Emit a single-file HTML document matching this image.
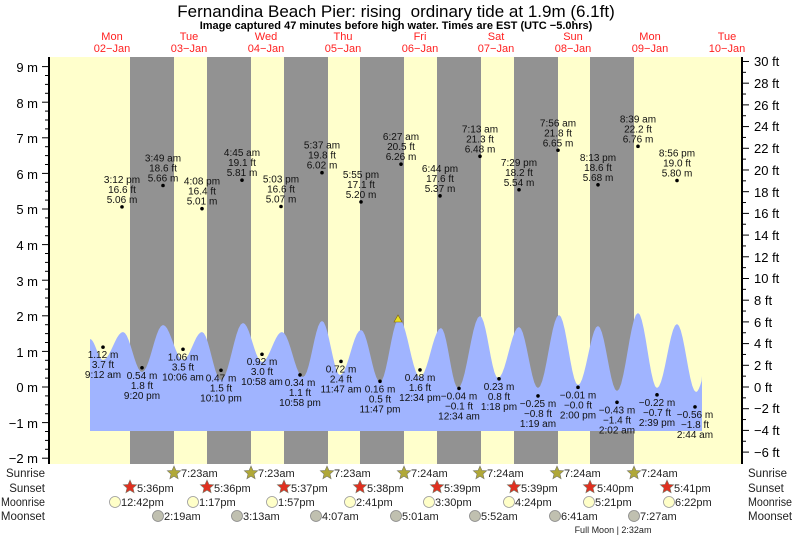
<!DOCTYPE html>
<html><head><meta charset="utf-8"><style>
body{margin:0;background:#fff;width:793px;height:537px;overflow:hidden}
svg{font-family:"Liberation Sans",sans-serif}
</style></head><body>
<svg id="s" width="793" height="537" xmlns="http://www.w3.org/2000/svg">
<rect x="49" y="57" width="693" height="407" fill="#ffffcc"/>
<g fill="#929292">
<rect x="130" y="57" width="44" height="407"/><rect x="207" y="57" width="44" height="407"/>
<rect x="284" y="57" width="44" height="407"/><rect x="360" y="57" width="44" height="407"/>
<rect x="437" y="57" width="44" height="407"/><rect x="514" y="57" width="44" height="407"/>
<rect x="590" y="57" width="44" height="407"/>
</g>
<path id="tide" fill="#a0b4ff" d=""/>
<polygon points="394,322 398,315 402,322" fill="#e8e020" stroke="#806000" stroke-width="0.6"/>
<g id="ax" stroke="#000"></g>
<line x1="49" y1="57" x2="49" y2="464" stroke="#000" stroke-width="2"/>
<line x1="742" y1="57" x2="742" y2="464" stroke="#000" stroke-width="2"/>
<g font-size="13" fill="#000">
<text x="38" y="72" text-anchor="end">9 m</text><text x="38" y="108" text-anchor="end">8 m</text>
<text x="38" y="143" text-anchor="end">7 m</text><text x="38" y="179" text-anchor="end">6 m</text>
<text x="38" y="214" text-anchor="end">5 m</text><text x="38" y="250" text-anchor="end">4 m</text>
<text x="38" y="286" text-anchor="end">3 m</text><text x="38" y="321" text-anchor="end">2 m</text>
<text x="38" y="357" text-anchor="end">1 m</text><text x="38" y="392" text-anchor="end">0 m</text>
<text x="38" y="428" text-anchor="end">−1 m</text><text x="38" y="463" text-anchor="end">−2 m</text>
</g>
<g font-size="13" fill="#000" id="ftl">
<text x="754" y="66">30 ft</text><text x="754" y="88">28 ft</text><text x="754" y="110">26 ft</text>
<text x="754" y="131">24 ft</text><text x="754" y="153">22 ft</text><text x="754" y="175">20 ft</text>
<text x="754" y="197">18 ft</text><text x="754" y="218">16 ft</text><text x="754" y="240">14 ft</text>
<text x="754" y="262">12 ft</text><text x="754" y="283">10 ft</text><text x="754" y="305">8 ft</text>
<text x="754" y="327">6 ft</text><text x="754" y="348">4 ft</text><text x="754" y="370">2 ft</text>
<text x="754" y="392">0 ft</text><text x="754" y="413">−2 ft</text><text x="754" y="435">−4 ft</text>
<text x="754" y="457">−6 ft</text>
</g>
<text x="396" y="17" font-size="17" text-anchor="middle" xml:space="preserve">Fernandina Beach Pier: rising  ordinary tide at 1.9m (6.1ft)</text>
<text x="396" y="29" font-size="11" font-weight="bold" text-anchor="middle">Image captured 47 minutes before high water. Times are EST (UTC −5.0hrs)</text>
<g font-size="11" fill="#ff2020" text-anchor="middle">
<text x="112" y="40">Mon</text><text x="112" y="52">02−Jan</text>
<text x="189" y="40">Tue</text><text x="189" y="52">03−Jan</text>
<text x="266" y="40">Wed</text><text x="266" y="52">04−Jan</text>
<text x="343" y="40">Thu</text><text x="343" y="52">05−Jan</text>
<text x="420" y="40">Fri</text><text x="420" y="52">06−Jan</text>
<text x="496" y="40">Sat</text><text x="496" y="52">07−Jan</text>
<text x="573" y="40">Sun</text><text x="573" y="52">08−Jan</text>
<text x="650" y="40">Mon</text><text x="650" y="52">09−Jan</text>
<text x="727" y="40">Tue</text><text x="727" y="52">10−Jan</text>
</g>
<g id="lab" font-size="10" fill="#111" text-anchor="middle"></g>
<g font-size="11.5" fill="#222">
<text x="45" y="477" text-anchor="end">Sunrise</text><text x="45" y="492" text-anchor="end">Sunset</text>
<text x="45" y="506" text-anchor="end" textLength="44" lengthAdjust="spacingAndGlyphs">Moonrise</text><text x="45" y="520" text-anchor="end">Moonset</text>
<text x="748" y="477">Sunrise</text><text x="748" y="492">Sunset</text>
<text x="748" y="506" textLength="44" lengthAdjust="spacingAndGlyphs">Moonrise</text><text x="748" y="520">Moonset</text>
</g>
<g id="ev" font-size="11" fill="#222"></g>
<text x="613" y="533" font-size="9" fill="#222" text-anchor="middle">Full Moon | 2:32am</text>
</svg>
<script>
var NS="http://www.w3.org/2000/svg";
function el(p,t,a,txt){var e=document.createElementNS(NS,t);for(var k in a)e.setAttribute(k,a[k]);if(txt!=null)e.textContent=txt;p.appendChild(e);return e;}
var ext=[[90,339],[103,360],[123,332],[142,372],[163,325],[183,360],[202,332],[221,380],[243,323],[262,362],[282,332],[303,377],[322,321],[340,375],[361,330],[380,382],[399,319],[420,377],[441,328],[458,388],[480,316],[498,378],[519,327],[538,388],[559,315],[578,385],[598,326],[617,391],[638,313],[657,388],[677,324],[696,392],[710,360]];
var d="M90,431 L90,339";
for(var i=0;i<ext.length-1;i++){var a=ext[i],b=ext[i+1];for(var s=1;s<=10;s++){var t=s/10,x=a[0]+(b[0]-a[0])*t;if(x>702)x=702;var y=a[1]+(b[1]-a[1])*(1-Math.cos(Math.PI*t))/2;d+=" L"+x.toFixed(1)+","+y.toFixed(1);if(x>=702)break;}}
d+=" L702,431 Z";document.getElementById("tide").setAttribute("d",d);
var ax=document.getElementById("ax");
for(var m=-2;m<=9.01;m+=0.25){var y=387-35.6*m;var maj=Math.abs(m-Math.round(m))<0.01;el(ax,"line",{x1:maj?42:45,y1:y,x2:49,y2:y});}
for(var f=-6;f<=30;f++){var y=387-35.6*0.3048*f;var maj=f%2==0;el(ax,"line",{x1:742,y1:y,x2:maj?749:746,y2:y});}
var lab=document.getElementById("lab");
var hi=[[122,"3:12 pm","16.6 ft",5.06],[163,"3:49 am","18.6 ft",5.66],[202,"4:08 pm","16.4 ft",5.01],[242,"4:45 am","19.1 ft",5.81],[281,"5:03 pm","16.6 ft",5.07],[322,"5:37 am","19.8 ft",6.02],[361,"5:55 pm","17.1 ft",5.20],[401,"6:27 am","20.5 ft",6.26],[440,"6:44 pm","17.6 ft",5.37],[480,"7:13 am","21.3 ft",6.48],[519,"7:29 pm","18.2 ft",5.54],[558,"7:56 am","21.8 ft",6.65],[598,"8:13 pm","18.6 ft",5.68],[638,"8:39 am","22.2 ft",6.76],[677,"8:56 pm","19.0 ft",5.80]];
hi.forEach(function(h){var y=387-35.6*h[3];el(lab,"circle",{cx:h[0],cy:y,r:1.8,fill:"#000"});el(lab,"text",{x:h[0],y:y-24},h[1]);el(lab,"text",{x:h[0],y:y-14},h[2]);el(lab,"text",{x:h[0],y:y-4},h[3].toFixed(2)+" m");});
var lo=[[103,"9:12 am","3.7 ft",1.12],[142,"9:20 pm","1.8 ft",0.54],[183,"10:06 am","3.5 ft",1.06],[221,"10:10 pm","1.5 ft",0.47],[262,"10:58 am","3.0 ft",0.92],[300,"10:58 pm","1.1 ft",0.34],[341,"11:47 am","2.4 ft",0.72],[380,"11:47 pm","0.5 ft",0.16],[420,"12:34 pm","1.6 ft",0.48],[459,"12:34 am","−0.1 ft",-0.04],[499,"1:18 pm","0.8 ft",0.23],[538,"1:19 am","−0.8 ft",-0.25],[578,"2:00 pm","−0.0 ft",-0.01],[617,"2:02 am","−1.4 ft",-0.43],[657,"2:39 pm","−0.7 ft",-0.22],[695,"2:44 am","−1.8 ft",-0.56]];
lo.forEach(function(h){var y=387-35.6*h[3];var v=(h[3]<0?"−":"")+Math.abs(h[3]).toFixed(2)+" m";el(lab,"circle",{cx:h[0],cy:y,r:1.8,fill:"#000"});el(lab,"text",{x:h[0],y:y+11},v);el(lab,"text",{x:h[0],y:y+21},h[2]);el(lab,"text",{x:h[0],y:y+31},h[1]);});
var ev=document.getElementById("ev");
function star(x,y,fill){var p="";for(var i=0;i<10;i++){var r=i%2?3.2:7,a=-Math.PI/2+i*Math.PI/5;p+=(x+r*Math.cos(a)).toFixed(1)+","+(y+r*Math.sin(a)).toFixed(1)+" ";}el(ev,"polygon",{points:p,fill:fill,stroke:"#776","stroke-width":0.6});}
var sr=[[174,"7:23am"],[251,"7:23am"],[327,"7:23am"],[404,"7:24am"],[480,"7:24am"],[557,"7:24am"],[634,"7:24am"]];
sr.forEach(function(s){star(s[0],473,"#b0a838");el(ev,"text",{x:s[0]+7,y:477},s[1]);});
var ss=[[130,"5:36pm"],[207,"5:36pm"],[284,"5:37pm"],[360,"5:38pm"],[437,"5:39pm"],[514,"5:39pm"],[590,"5:40pm"],[667,"5:41pm"]];
ss.forEach(function(s){star(s[0],487,"#e03020");el(ev,"text",{x:s[0]+7,y:492},s[1]);});
var mr=[[115,"12:42pm"],[193,"1:17pm"],[272,"1:57pm"],[350,"2:41pm"],[429,"3:30pm"],[509,"4:24pm"],[589,"5:21pm"],[669,"6:22pm"]];
mr.forEach(function(s){el(ev,"circle",{cx:s[0],cy:502,r:5.5,fill:"#ffffc8",stroke:"#999","stroke-width":0.8});el(ev,"text",{x:s[0]+6,y:506},s[1]);});
var ms=[[158,"2:19am"],[237,"3:13am"],[316,"4:07am"],[396,"5:01am"],[475,"5:52am"],[555,"6:41am"],[634,"7:27am"]];
ms.forEach(function(s){el(ev,"circle",{cx:s[0],cy:516,r:5.5,fill:"#c0c0b0",stroke:"#888","stroke-width":0.8});el(ev,"text",{x:s[0]+6,y:520},s[1]);});
</script>
</body></html>
